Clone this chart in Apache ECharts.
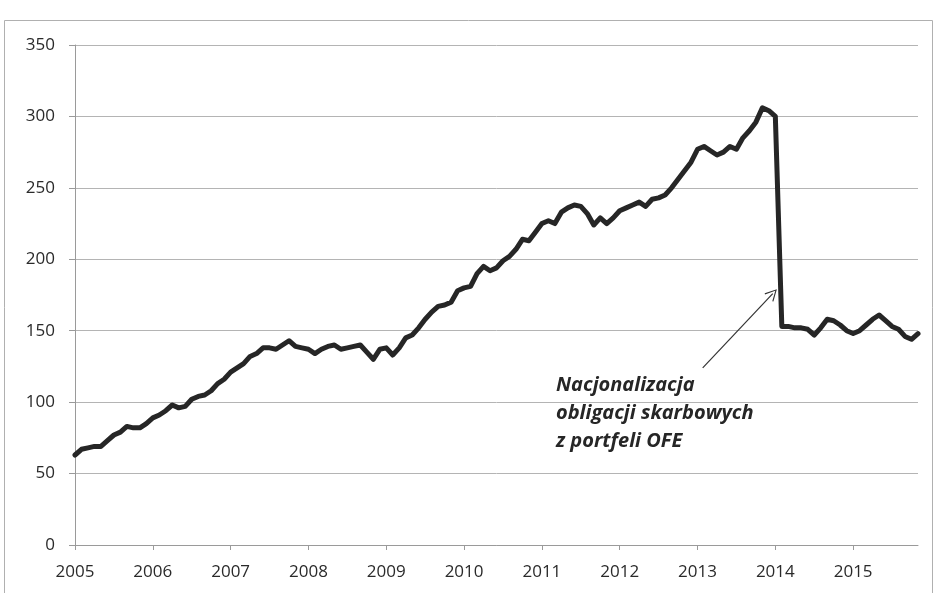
<!DOCTYPE html>
<html>
<head>
<meta charset="utf-8">
<script src="https://cdn.jsdelivr.net/npm/echarts@6/dist/echarts.min.js"></script>
<style>
html,body{margin:0;padding:0;background:#fff;}
#c{width:948px;height:593px;}
</style>
</head>
<body>
<div id="c"></div>
<script>
// Monthly values, Jan 2005 .. Nov 2015
const yearLabels = ['2005','2006','2007','2008','2009','2010','2011','2012','2013','2014','2015'];
const values = [
  63,67,68,69,69,73,77,79,83,82,82,85,
  89,91,94,98,96,97,102,104,105,108,113,116,
  121,124,127,132,134,138,138,137,140,143,139,138,
  137,134,137,139,140,137,138,139,140,135,130,137,
  138,133,138,145,147,152,158,163,167,168,170,178,
  180,181,190,195,192,194,199,202,207,214,213,219,
  225,227,225,233,236,238,237,232,224,229,225,229,
  234,236,238,240,237,242,243,245,250,256,262,268,
  277,279,276,273,275,279,277,285,290,296,306,304,
  300,153,153,152,152,151,147,152,158,157,154,150,
  148,150,154,158,161,157,153,151,146,144,148
];
const yTicks = [0,50,100,150,200,250,300,350];
const annotationLines = ['Nacjonalizacja','obligacji skarbowych','z portfeli OFE'];
// arrow in data coordinates (month index, value)
const arrowFrom = [96.8, 124];
const arrowTo = [107.6, 176];

const seriesData = values.map((v, i) => [i, v]);
const yearTickValues = yearLabels.map((_, k) => k * 12);

const chart = echarts.init(document.getElementById('c'), null, {renderer: 'canvas'});
const fontFam = '"Open Sans", "DejaVu Sans", sans-serif';
chart.setOption({
  animation: false,
  backgroundColor: '#fff',
  grid: {left: 75, right: 30, top: 45, bottom: 48, containLabel: false},
  xAxis: {
    type: 'value',
    min: 0,
    max: values.length - 1,
    interval: 12,
    splitLine: {show: false},
    axisLine: {show: true, lineStyle: {color: '#9a9a9a', width: 1}},
    axisTick: {show: true, length: 5, lineStyle: {color: '#9a9a9a'}, customValues: yearTickValues},
    axisLabel: {
      customValues: yearTickValues,
      formatter: v => yearLabels[Math.round(v / 12)] || '',
      color: '#2a2a2a', fontSize: 17, fontFamily: fontFam, margin: 19
    }
  },
  yAxis: {
    type: 'value',
    min: 0, max: 350, interval: 50,
    axisLine: {show: true, lineStyle: {color: '#9a9a9a', width: 1}},
    axisTick: {show: true, length: 6, lineStyle: {color: '#9a9a9a'}},
    splitLine: {show: true, lineStyle: {color: '#b4b4b4', width: 1}},
    axisLabel: {color: '#2a2a2a', fontSize: 17, fontFamily: fontFam, margin: 20,
      formatter: v => yTicks.indexOf(v) >= 0 ? String(v) : ''}
  },
  series: [{
    type: 'line',
    data: seriesData,
    showSymbol: false,
    symbol: 'none',
    lineStyle: {color: '#262626', width: 5, join: 'round', cap: 'round'},
    markLine: {
      silent: true,
      symbol: ['none', 'path://M0,0 L6,11 L5,11.6 L0,2.2 L-5,11.6 L-6,11 Z'],
      symbolSize: [12, 12],
      lineStyle: {color: '#333', width: 1.2, type: 'solid'},
      label: {show: false},
      data: [[{coord: arrowFrom}, {coord: arrowTo}]]
    }
  }],
  graphic: [
    {type: 'rect', shape: {x: 4.5, y: 20.5, width: 928, height: 590},
      style: {fill: 'none', stroke: '#b0b0b0', lineWidth: 1}, silent: true, z: -1},
    {type: 'text', left: 556, top: 371,
      style: {text: annotationLines.join('\n'), font: 'italic bold 20px ' + fontFam,
        fill: '#262626', lineHeight: 28}}
  ]
});
</script>
</body>
</html>
